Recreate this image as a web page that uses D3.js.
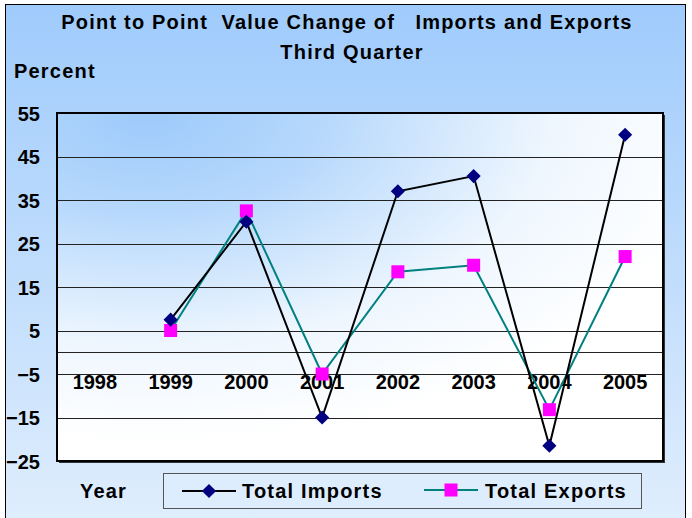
<!DOCTYPE html>
<html>
<head>
<meta charset="utf-8">
<script src="https://cdn.jsdelivr.net/npm/d3@7"></script>
<style>
body { margin: 0; background: #fff; }
text { font-family: Arial, "Liberation Sans", sans-serif; font-weight: bold; fill: #000; letter-spacing: 1.2px; }
.tick text { letter-spacing: 0; }
</style>
</head>
<body>
<div id="chart"></div>
<script>
// years along the category axis
var years = ["1998", "1999", "2000", "2001", "2002", "2003", "2004", "2005"];
// percent change (null = no point)
var imports = [null, 7.5, 30, -15, 37, 40.5, -21.5, 50];
var exports = [null, 5, 32.5, -5, 18.5, 20, -13.2, 22];
var yTicks = [55, 45, 35, 25, 15, 5, -5, -15, -25];

var W = 692, H = 518;
var plotL = 57, plotR = 663, plotT = 113, plotB = 461;

var svg = d3.select("#chart").append("svg")
	.attr("width", W)
	.attr("height", H);

var defs = svg.append("defs");
var bg = defs.append("linearGradient").attr("id", "bg")
	.attr("x1", 0).attr("y1", 0).attr("x2", 0).attr("y2", 1);
bg.append("stop").attr("offset", "0%").attr("stop-color", "#9fcbfc");
bg.append("stop").attr("offset", "100%").attr("stop-color", "#e0eefd");

var pg = defs.append("radialGradient").attr("id", "plotbg")
	.attr("cx", "15%").attr("cy", "0%").attr("r", "95%")
	.attr("fx", "15%").attr("fy", "0%");
pg.append("stop").attr("offset", "0%").attr("stop-color", "#9dcafb");
pg.append("stop").attr("offset", "30%").attr("stop-color", "#b6d8fc");
pg.append("stop").attr("offset", "70%").attr("stop-color", "#eef6fe");
pg.append("stop").attr("offset", "100%").attr("stop-color", "#ffffff");

// outer frame
svg.append("rect")
	.attr("x", 5.5).attr("y", 4.5)
	.attr("width", 680).attr("height", 520)
	.attr("fill", "url(#bg)")
	.attr("stroke", "#000").attr("stroke-width", 1);

var x = d3.scaleBand().domain(years).range([plotL, plotR]);
var y = d3.scaleLinear().domain([-25, 55]).range([plotB, plotT]);

// shadow + plot area
svg.append("rect")
	.attr("x", plotL + 2).attr("y", plotT + 2)
	.attr("width", plotR - plotL).attr("height", plotB - plotT)
	.attr("fill", "#333");
svg.append("rect")
	.attr("x", plotL).attr("y", plotT)
	.attr("width", plotR - plotL).attr("height", plotB - plotT)
	.attr("fill", "url(#plotbg)");

// gridlines
svg.append("g").selectAll("line")
	.data(yTicks.concat([0]))
	.enter().append("line")
	.attr("x1", plotL).attr("x2", plotR)
	.attr("y1", function(d) { return Math.round(y(d)) + 0.5; })
	.attr("y2", function(d) { return Math.round(y(d)) + 0.5; })
	.attr("stroke", "#222").attr("stroke-width", 1);

svg.append("rect")
	.attr("x", plotL).attr("y", plotT)
	.attr("width", plotR - plotL).attr("height", plotB - plotT)
	.attr("fill", "none")
	.attr("stroke", "#000").attr("stroke-width", 2);

// y axis labels
var yAxis = d3.axisLeft(y).tickValues(yTicks).tickSize(0).tickPadding(0);
var ga = svg.append("g")
	.attr("transform", "translate(40,0)")
	.call(yAxis);
ga.select(".domain").remove();
ga.selectAll("text")
	.attr("font-size", 20)
	.attr("font-family", "Arial, 'Liberation Sans', sans-serif")
	.attr("font-weight", "bold")
	.attr("dy", "0.35em");

// category labels sit just under the zero line
var xAxis = d3.axisBottom(x).tickSize(0).tickPadding(0);
var gx = svg.append("g")
	.attr("transform", "translate(0," + (y(0) + 41) + ")")
	.call(xAxis);
gx.select(".domain").remove();
gx.selectAll("text")
	.attr("font-size", 20)
	.attr("font-family", "Arial, 'Liberation Sans', sans-serif")
	.attr("font-weight", "bold")
	.attr("dy", "-0.2em");

var cx = function(d, i) { return x(years[i]) + x.bandwidth() / 2; };

var line = d3.line()
	.defined(function(d) { return d != null; })
	.x(cx)
	.y(function(d) { return y(d); });

// exports series
svg.append("path").datum(exports)
	.attr("d", line)
	.attr("fill", "none").attr("stroke", "#008080").attr("stroke-width", 2);
// imports series
svg.append("path").datum(imports)
	.attr("d", line)
	.attr("fill", "none").attr("stroke", "#000").attr("stroke-width", 2);

var sq = 13;
svg.append("g").selectAll("rect")
	.data(exports.map(function(v, i) { return {v: v, i: i}; }).filter(function(d) { return d.v != null; }))
	.enter().append("rect")
	.attr("x", function(d) { return x(years[d.i]) + x.bandwidth() / 2 - sq / 2; })
	.attr("y", function(d) { return y(d.v) - sq / 2; })
	.attr("width", sq).attr("height", sq)
	.attr("fill", "#ff00ff");

// diamond = square turned 45 degrees
var diamond = d3.symbol().type(d3.symbolSquare).size(100);
svg.append("g").selectAll("path")
	.data(imports.map(function(v, i) { return {v: v, i: i}; }).filter(function(d) { return d.v != null; }))
	.enter().append("path")
	.attr("d", diamond)
	.attr("transform", function(d) {
		return "translate(" + (x(years[d.i]) + x.bandwidth() / 2) + "," + y(d.v) + ") rotate(45)";
	})
	.attr("fill", "#000080");

// titles
svg.append("text")
	.attr("x", 347).attr("y", 29)
	.attr("text-anchor", "middle")
	.attr("font-size", 20)
	.attr("xml:space", "preserve")
	.text("Point to Point  Value Change of   Imports and Exports");
svg.append("text")
	.attr("x", 352).attr("y", 59)
	.attr("text-anchor", "middle")
	.attr("font-size", 20)
	.text("Third Quarter");
svg.append("text")
	.attr("x", 14).attr("y", 78)
	.attr("font-size", 20)
	.text("Percent");
svg.append("text")
	.attr("x", 80).attr("y", 498)
	.attr("font-size", 20)
	.text("Year");

// legend
var lg = svg.append("g");
lg.append("rect")
	.attr("x", 163.5).attr("y", 473.5)
	.attr("width", 478).attr("height", 35)
	.attr("fill", "#deedfd")
	.attr("stroke", "#555").attr("stroke-width", 1);
lg.append("line")
	.attr("x1", 182).attr("x2", 236).attr("y1", 491).attr("y2", 491)
	.attr("stroke", "#000").attr("stroke-width", 2);
lg.append("path")
	.attr("d", diamond)
	.attr("transform", "translate(209,491) rotate(45)")
	.attr("fill", "#000080");
lg.append("text")
	.attr("x", 242).attr("y", 498)
	.attr("font-size", 20)
	.text("Total Imports");
lg.append("line")
	.attr("x1", 424).attr("x2", 478).attr("y1", 490).attr("y2", 490)
	.attr("stroke", "#008080").attr("stroke-width", 2);
lg.append("rect")
	.attr("x", 444.5).attr("y", 483.5)
	.attr("width", sq).attr("height", sq)
	.attr("fill", "#ff00ff");
lg.append("text")
	.attr("x", 485).attr("y", 498)
	.attr("font-size", 20)
	.text("Total Exports");
</script>
</body>
</html>
